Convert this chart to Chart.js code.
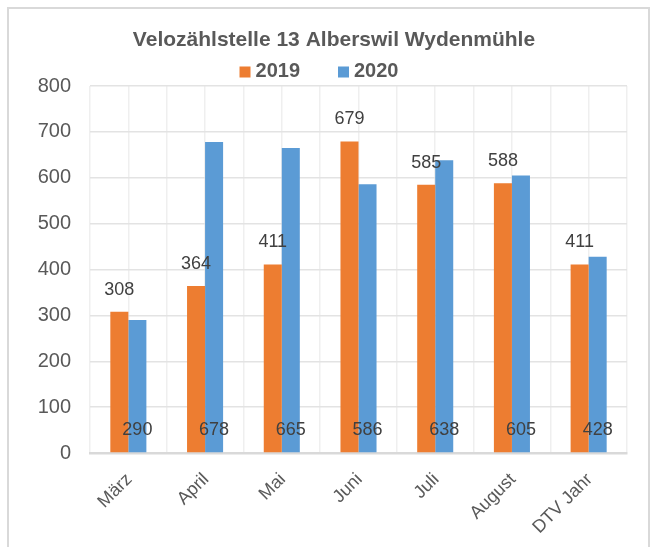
<!DOCTYPE html>
<html>
<head>
<meta charset="utf-8">
<script src="https://cdn.jsdelivr.net/npm/chart.js@4.4.0/dist/chart.umd.min.js"></script>
<style>
  html, body { margin: 0; padding: 0; background: #fff; overflow: hidden; }
  #wrap { position: relative; width: 656px; height: 547px; }
  #frame { position: absolute; left: 7px; top: 7px; width: 643px; height: 600px; border: 2px solid #d9d9d9; box-sizing: border-box; }
  canvas { position: absolute; left: 0; top: 0; }
</style>
</head>
<body>
<div id="wrap">
  <div id="frame"></div>
  <canvas id="chart" width="656" height="547"></canvas>
</div>
<script>
const months = ['März', 'April', 'Mai', 'Juni', 'Juli', 'August', 'DTV Jahr'];
const counts2019 = [308, 364, 411, 679, 585, 588, 411];
const counts2020 = [290, 678, 665, 586, 638, 605, 428];
const yMin = 0, yMax = 800, yStep = 100;
const chartTitle = 'Velozählstelle 13 Alberswil Wydenmühle';

const FONT = '"Liberation Sans", Arial, sans-serif';
const GREY = '#595959';

// Wertebeschriftungen: 2019 über dem Balken, 2020 unten im Balken
const valueLabels = {
  id: 'valueLabels',
  afterDatasetsDraw(chart) {
    const ctx = chart.ctx;
    ctx.save();
    ctx.font = '18px ' + FONT;
    ctx.fillStyle = '#404040';
    ctx.textAlign = 'center';
    ctx.textBaseline = 'middle';
    chart.getDatasetMeta(0).data.forEach((bar, i) => {
      ctx.fillText(String(counts2019[i]), bar.x, bar.y - 22);
    });
    chart.getDatasetMeta(1).data.forEach((bar, i) => {
      ctx.fillText(String(counts2020[i]), bar.x, bar.base - 22);
    });
    ctx.restore();
  }
};

// Titel + Legende wie im Excel-Original (kleines Quadrat, enger Abstand)
const headerBlock = {
  id: 'headerBlock',
  afterDraw(chart, args, opts) {
    const ctx = chart.ctx;
    ctx.save();
    ctx.textBaseline = 'middle';

    ctx.font = 'bold 21px ' + FONT;
    ctx.textAlign = 'center';
    ctx.fillStyle = GREY;
    ctx.fillText(opts.title, opts.titleX, opts.titleY);

    ctx.font = 'bold 20px ' + FONT;
    ctx.textAlign = 'left';
    const items = chart.data.datasets.map(ds => ({
      text: ds.label, color: ds.backgroundColor, w: ctx.measureText(ds.label).width
    }));
    const box = 11, gapText = 5, gapItem = 38;
    const total = items.reduce((s, it) => s + box + gapText + it.w, 0) + gapItem * (items.length - 1);
    let x = opts.legendX - total / 2;
    items.forEach(it => {
      ctx.fillStyle = it.color;
      ctx.fillRect(x, opts.legendY - box / 2 + 1, box, box);
      ctx.fillStyle = GREY;
      ctx.fillText(it.text, x + box + gapText, opts.legendY);
      x += box + gapText + it.w + gapItem;
    });
    ctx.restore();
  }
};

new Chart(document.getElementById('chart'), {
  type: 'bar',
  data: {
    labels: months,
    datasets: [
      { label: '2019', data: counts2019, backgroundColor: '#ED7D31' },
      { label: '2020', data: counts2020, backgroundColor: '#5B9BD5' }
    ]
  },
  options: {
    responsive: false,
    animation: false,
    devicePixelRatio: 1,
    barPercentage: 1,
    categoryPercentage: 0.47,
    layout: { padding: { top: 86, left: 0, right: 29, bottom: 0 } },
    plugins: {
      legend: { display: false },
      title: { display: false },
      tooltip: { enabled: false },
      headerBlock: { title: chartTitle, titleX: 334, titleY: 40, legendX: 319, legendY: 71 }
    },
    scales: {
      x: {
        position: 'bottom',
        offset: true,
        grid: { offset: true, color: '#efefef', lineWidth: 1.5, drawTicks: false },
        border: { display: true, color: '#d9d9d9', width: 2.5 },
        ticks: {
          color: GREY, font: { family: FONT, size: 18 },
          minRotation: 45, maxRotation: 45, padding: 16, labelOffset: 1, autoSkip: false
        },
        afterFit: (s) => { s.height = 94; }
      },
      x2: {
        type: 'category',
        position: 'bottom',
        offset: true,
        grid: { offset: false, color: '#efefef', lineWidth: 1.5, drawTicks: false },
        border: { display: false },
        ticks: { display: false },
        afterFit: (s) => { s.height = 0; }
      },
      y: {
        min: yMin, max: yMax,
        grid: { color: '#e3e3e3', lineWidth: 1.5, drawTicks: false },
        border: { display: false },
        ticks: { stepSize: yStep, color: GREY, font: { family: FONT, size: 20 }, padding: 19 },
        afterFit: (s) => { s.width = 90; }
      }
    }
  },
  plugins: [valueLabels, headerBlock]
});
</script>
</body>
</html>
